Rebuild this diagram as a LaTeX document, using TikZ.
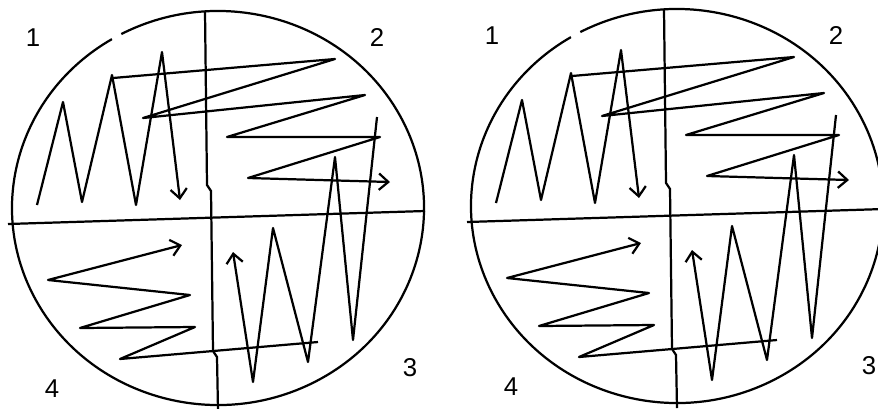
\documentclass[tikz,border=0pt]{standalone}
\usepackage{fontspec}
\setmainfont{Liberation Sans}
\usetikzlibrary{arrows.meta}
\begin{document}
\begin{tikzpicture}[x=0.03cm,y=-0.03cm,
		plate/.style={line width=1.9pt},
		streak/.style={line width=1.9pt,line join=round},
		streakarrow/.style={-{Straight Barb[length=8pt,width=14pt]}},
		num/.style={font=\fontsize{22}{22}\selectfont,inner sep=0pt}]
	% page frame
	\fill[white] (0,0) rectangle (878,408);
	\clip (0,0) rectangle (878,408);
	% one plate: rim, dividers, four streaks, sector numbers
	\def\drawplate#1#2{
		\begin{scope}[shift={#1}]
			% rim (small break at upper left)
			\draw[plate] (218,208) ++(242:206 and 197) arc[start angle=242,end angle=599,x radius=206,y radius=197];
			% dividers
			\draw[plate] (205,11) -- (207,185) -- (211,191) -- (213,351) -- (217,357) -- (218,410);
			\draw[plate] (8,224) -- (425,211);
			% streak 1
			\draw[streak,streakarrow] (37,205) -- (63,102) -- (82,202) -- (112,75) -- (136,205) -- (162,52) -- (180,200);
			% streak 2
			\draw[streak,streakarrow] (113,78) -- (335,59) -- (143,118) -- (365,95) -- (227,137) -- (380,137) -- (248,178) -- (390,182);
			% streak 3
			\draw[streak,streakarrow] (377,117) -- (353,340) -- (335,157) -- (308,362) -- (273,228) -- (253,382) -- (233,252);
			% streak 4
			\draw[streak,streakarrow] (318,342) -- (120,359) -- (195,327) -- (80,328) -- (190,295) -- (48,280) -- (182,245);
			% sector numbers
			\node[num] (#2-one) at (33,38) {1};
			\node[num] (#2-two) at (377,37) {2};
			\node[num] (#2-three) at (410,368) {3};
			\node[num] (#2-four) at (52,389) {4};
		\end{scope}
	}
	% two plates
	\drawplate{(0,0)}{left}
	\drawplate{(459,-2)}{right}
\end{tikzpicture}
\end{document}
